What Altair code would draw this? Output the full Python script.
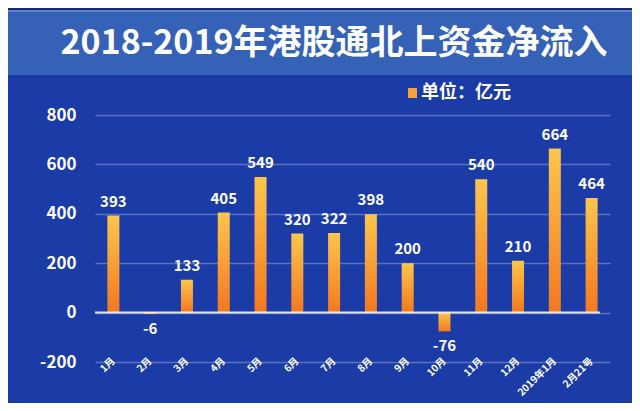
import altair as alt
import pandas as pd

categories = ["1月", "2月", "3月", "4月", "5月", "6月", "7月", "8月", "9月", "10月",
              "11月", "12月", "2019年1月", "2月21号"]
values = [393, -6, 133, 405, 549, 320, 322, 398, 200, -76, 540, 210, 664, 464]
y_ticks = [-200, 0, 200, 400, 600, 800]
title_text = "2018-2019年港股通北上资金净流入"
legend_text = "单位：亿元"

FONT = "Noto Sans CJK SC"
BG = "#1b3ca6"
BANNER = "#3562b6"

df = pd.DataFrame({"cat": categories, "v": values})
df["lbl"] = df["v"].astype(str)
one = pd.DataFrame({"a": [0]})

xenc = alt.X("cat:N", sort=categories, title=None,
             scale=alt.Scale(paddingInner=0, paddingOuter=0),
             axis=alt.Axis(labelAngle=-45, labelColor="white", labelFont=FONT,
                           labelFontSize=10, labelFontWeight="bold", domain=False,
                           ticks=False, labelPadding=-3, labelAlign="right",
                           labelBaseline="middle"))
yenc = alt.Y("v:Q", title=None,
             scale=alt.Scale(domain=[-200, 800], nice=False),
             axis=alt.Axis(values=y_ticks, labelColor="white", labelFont=FONT,
                           labelFontSize=17, labelFontWeight="bold", domain=False,
                           ticks=False, labelPadding=19, grid=True,
                           labelExpr="'' + datum.value",
                           gridColor="white", gridOpacity=0.28, gridWidth=1.5))

grad = alt.Gradient(gradient="linear",
                    stops=[alt.GradientStop(color="#fcc64c", offset=0),
                           alt.GradientStop(color="#f3781f", offset=1)],
                    x1=0, x2=0, y1=0, y2=1)

banner = alt.Chart(one).mark_rect(color=BANNER).encode(
    x=alt.value(-87), x2=alt.value(537), y=alt.value(-105), y2=alt.value(-40))
banner_hi = alt.Chart(one).mark_rule(color="#5b86d0", strokeWidth=2).encode(
    x=alt.value(-87), x2=alt.value(537), y=alt.value(-104))
top_strip = alt.Chart(one).mark_rect(color="#16297a").encode(
    x=alt.value(-87), x2=alt.value(537), y=alt.value(-107), y2=alt.value(-105))

title = alt.Chart(one).mark_text(text=title_text, font=FONT, fontSize=34,
                                 fontWeight="bold", color="white",
                                 align="center", baseline="middle").encode(
    x=alt.value(239), y=alt.value(-71))

leg_sq = alt.Chart(one).mark_rect(color="#f7a23a").encode(
    x=alt.value(313), x2=alt.value(322), y=alt.value(-27), y2=alt.value(-17))
leg_txt = alt.Chart(one).mark_text(text=legend_text, font=FONT, fontSize=18,
                                   fontWeight="bold", color="white",
                                   align="left", baseline="middle").encode(
    x=alt.value(326), y=alt.value(-22))

bars = alt.Chart(df).mark_bar(size=12, color=grad).encode(x=xenc, y=yenc)

zero = alt.Chart(one).mark_rule(color="white", strokeWidth=2, opacity=0.85).encode(
    y=alt.datum(0), x=alt.value(0), x2=alt.value(505))

pos_lbl = alt.Chart(df).transform_filter("datum.v >= 0").mark_text(
    font=FONT, fontSize=15, fontWeight="bold", color="white",
    baseline="bottom", dy=-6).encode(x=xenc, y=yenc, text="lbl:N")
neg_lbl = alt.Chart(df).transform_filter("datum.v < 0").mark_text(
    font=FONT, fontSize=15, fontWeight="bold", color="white",
    baseline="top", dy=8).encode(x=xenc, y=yenc, text="lbl:N")

chart = alt.layer(top_strip, banner, banner_hi, title, leg_sq, leg_txt,
                  bars, zero, pos_lbl, neg_lbl).properties(
    width=515, height=247,
    autosize=alt.AutoSizeParams(type="none"),
    padding={"left": 87, "top": 107, "right": 22, "bottom": 41},
    background=BG,
).configure_view(stroke=None)

chart.save("out.html", embed_options={"renderer": "svg", "actions": False})
